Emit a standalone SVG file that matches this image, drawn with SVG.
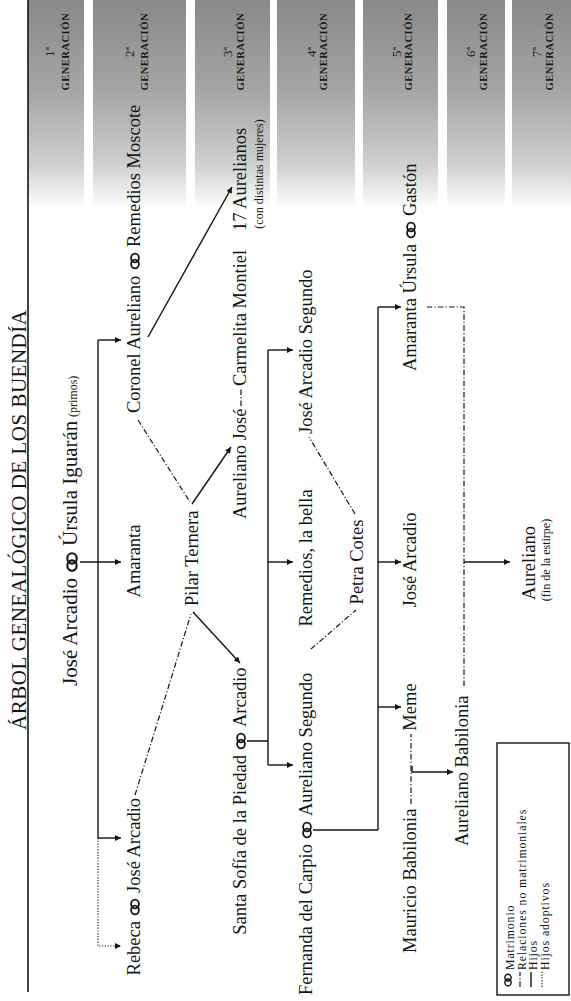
<svg xmlns="http://www.w3.org/2000/svg" width="571" height="1001" viewBox="0 0 571 1001">
<style>
.t{font-family:"Liberation Serif","DejaVu Serif",serif;fill:#141414}
.n{font-size:18.5px}
.r{font-size:21px}
.s{font-size:12px}
.lg{font-size:11.8px;letter-spacing:0.9px}
.gl{font-family:"Liberation Serif","DejaVu Serif",serif;font-weight:bold;font-size:10.5px;fill:#1a1a1a}
.gn{font-family:"Liberation Serif","DejaVu Serif",serif;font-size:13px;fill:#1a1a1a}
.ti{font-size:21px}
.m{text-anchor:middle}
.e{text-anchor:end}
.ln{stroke:#141414;stroke-width:1.4;fill:none}
.rel{stroke:#141414;stroke-width:1.2;fill:none;stroke-dasharray:5.5 2.2 1.2 2.2}
.ad{stroke:#141414;stroke-width:1.2;fill:none;stroke-dasharray:1.2 1.6}
.rg{stroke:#141414;stroke-width:1.8;fill:none}
</style>
<defs>
<linearGradient id="band" x1="0" y1="0" x2="0" y2="1">
<stop offset="0" stop-color="#898989"/>
<stop offset="0.45" stop-color="#a6a6a6"/>
<stop offset="0.8" stop-color="#cfcfcf"/>
<stop offset="1" stop-color="#fbfbfb"/>
</linearGradient>
<marker id="ah" viewBox="0 0 10 10" refX="10" refY="5" markerWidth="8" markerHeight="6" markerUnits="userSpaceOnUse" orient="auto">
<path d="M0,0 L10,5 L0,10 z" fill="#141414"/>
</marker>
<g id="ring" class="rg"><ellipse cx="0" cy="-3" rx="3.9" ry="4.3"/><ellipse cx="0" cy="3" rx="3.9" ry="4.3"/></g>
</defs>
<rect width="571" height="1001" fill="#ffffff"/>

<g id="generations">
<g id="gen1"><rect x="28" y="0" width="56" height="205" fill="url(#band)"/>
<text class="gn" text-anchor="middle" transform="translate(54,52) rotate(-90)">1ª</text>
<text class="gl" text-anchor="middle" textLength="77" lengthAdjust="spacing" transform="translate(69,52) rotate(-90)">GENERACIÓN</text></g>
<g id="gen2"><rect x="93" y="0" width="93" height="205" fill="url(#band)"/>
<text class="gn" text-anchor="middle" transform="translate(134,52) rotate(-90)">2ª</text>
<text class="gl" text-anchor="middle" textLength="77" lengthAdjust="spacing" transform="translate(148,52) rotate(-90)">GENERACIÓN</text></g>
<g id="gen3"><rect x="195" y="0" width="75" height="205" fill="url(#band)"/>
<text class="gn" text-anchor="middle" transform="translate(232,52) rotate(-90)">3ª</text>
<text class="gl" text-anchor="middle" textLength="77" lengthAdjust="spacing" transform="translate(244,52) rotate(-90)">GENERACIÓN</text></g>
<g id="gen4"><rect x="277" y="0" width="78" height="205" fill="url(#band)"/>
<text class="gn" text-anchor="middle" transform="translate(316,52) rotate(-90)">4ª</text>
<text class="gl" text-anchor="middle" textLength="77" lengthAdjust="spacing" transform="translate(327,52) rotate(-90)">GENERACIÓN</text></g>
<g id="gen5"><rect x="363" y="0" width="75" height="205" fill="url(#band)"/>
<text class="gn" text-anchor="middle" transform="translate(401,52) rotate(-90)">5ª</text>
<text class="gl" text-anchor="middle" textLength="77" lengthAdjust="spacing" transform="translate(412,52) rotate(-90)">GENERACIÓN</text></g>
<g id="gen6"><rect x="447" y="0" width="58" height="205" fill="url(#band)"/>
<text class="gn" text-anchor="middle" transform="translate(475,52) rotate(-90)">6ª</text>
<text class="gl" text-anchor="middle" textLength="77" lengthAdjust="spacing" transform="translate(487,52) rotate(-90)">GENERACIÓN</text></g>
<g id="gen7"><rect x="512" y="0" width="59" height="205" fill="url(#band)"/>
<text class="gn" text-anchor="middle" transform="translate(541,52) rotate(-90)">7ª</text>
<text class="gl" text-anchor="middle" textLength="77" lengthAdjust="spacing" transform="translate(553,52) rotate(-90)">GENERACIÓN</text></g>
</g>

<g id="title">
<line x1="28" y1="0" x2="28" y2="992" stroke="#141414" stroke-width="1.6"/>
<text class="t ti" textLength="420" lengthAdjust="spacing" transform="translate(26,730) rotate(-90)">ÁRBOL GENEALÓGICO DE LOS BUENDÍA</text>
</g>

<g id="connectors">
<path class="ln" d="M98,340 V838"/>
<path class="ln" d="M80,562 H121" marker-end="url(#ah)"/>
<path class="ln" d="M98,340 H121" marker-end="url(#ah)"/>
<path class="ln" d="M98,838 H121" marker-end="url(#ah)"/>
<path class="ad" d="M98,838 V946 H121" marker-end="url(#ah)"/>
<path class="ln" d="M148,337 L232,187" marker-end="url(#ah)"/>
<path class="rel" d="M138,420 L190,502"/>
<path class="ln" d="M192,504 L231,447" marker-end="url(#ah)"/>
<path class="rel" d="M135,795 L191,614"/>
<path class="ln" d="M193,612 L240,663" marker-end="url(#ah)"/>
<path class="rel" d="M241,406 V389"/>
<path class="ln" d="M247,741 H268 M268,350 V765"/>
<path class="ln" d="M268,350 H293" marker-end="url(#ah)"/>
<path class="ln" d="M268,562 H293" marker-end="url(#ah)"/>
<path class="ln" d="M268,765 H293" marker-end="url(#ah)"/>
<path class="rel" d="M311,649 L356,610"/>
<path class="rel" d="M355,514 L309,437"/>
<path class="ln" d="M313,830 H378 M378,307 V830"/>
<path class="ln" d="M378,307 H401" marker-end="url(#ah)"/>
<path class="ln" d="M378,562 H401" marker-end="url(#ah)"/>
<path class="ln" d="M378,707 H401" marker-end="url(#ah)"/>
<path class="rel" d="M411,804 V734"/>
<path class="ln" d="M412,766 V772 H453" marker-end="url(#ah)"/>
<path class="rel" d="M464,686 V307 H427"/>
<path class="ln" d="M464,562 H510" marker-end="url(#ah)"/>
</g>

<g id="n-jose-arcadio-ursula">
<text class="t r e" transform="translate(77,578) rotate(-90)">José Arcadio</text>
<use href="#ring" transform="translate(72,562) scale(1.2)"/>
<text class="t r" transform="translate(77,546) rotate(-90)">Úrsula Iguarán</text>
<text class="t s" transform="translate(77,417) rotate(-90)">(primos)</text>
</g>
<g id="n-rebeca-jose-arcadio">
<text class="t n e" transform="translate(140,921) rotate(-90)">Rebeca</text>
<use href="#ring" transform="translate(135,907)"/>
<text class="t n" transform="translate(140,893) rotate(-90)">José Arcadio</text>
</g>
<g id="n-amaranta">
<text class="t n m" transform="translate(140,561) rotate(-90)">Amaranta</text>
</g>
<g id="n-coronel-remedios">
<text class="t n" transform="translate(140,413) rotate(-90)">Coronel Aureliano</text>
<use href="#ring" transform="translate(135,261)"/>
<text class="t n" transform="translate(140,247) rotate(-90)">Remedios Moscote</text>
</g>
<g id="n-pilar">
<text class="t n" transform="translate(198,606) rotate(-90)">Pilar Ternera</text>
</g>
<g id="n-santa-sofia-arcadio">
<text class="t n e" transform="translate(246,755) rotate(-90)">Santa Sofía de la Piedad</text>
<use href="#ring" transform="translate(241,741)"/>
<text class="t n" transform="translate(246,727) rotate(-90)">Arcadio</text>
</g>
<g id="n-aureliano-jose">
<text class="t n" transform="translate(246,519) rotate(-90)">Aureliano José</text>
</g>
<g id="n-carmelita">
<text class="t n" transform="translate(246,386) rotate(-90)">Carmelita Montiel</text>
</g>
<g id="n-17-aurelianos">
<text class="t n" transform="translate(246,231) rotate(-90)">17 Aurelianos</text>
<text class="t s m" transform="translate(263,174) rotate(-90)">(con distintas mujeres)</text>
</g>
<g id="n-fernanda-aureliano-segundo">
<text class="t n e" transform="translate(312,844) rotate(-90)">Fernanda del Carpio</text>
<use href="#ring" transform="translate(307,830)"/>
<text class="t n" transform="translate(312,816) rotate(-90)">Aureliano Segundo</text>
</g>
<g id="n-remedios-bella">
<text class="t n m" transform="translate(312,558) rotate(-90)">Remedios, la bella</text>
</g>
<g id="n-jose-arcadio-segundo">
<text class="t n" transform="translate(312,434) rotate(-90)">José Arcadio Segundo</text>
</g>
<g id="n-petra">
<text class="t n m" transform="translate(363,562) rotate(-90)">Petra Cotes</text>
</g>
<g id="n-mauricio">
<text class="t n" transform="translate(416,953) rotate(-90)">Mauricio Babilonia</text>
</g>
<g id="n-meme">
<text class="t n m" transform="translate(416,707) rotate(-90)">Meme</text>
</g>
<g id="n-jose-arcadio-5">
<text class="t n m" transform="translate(416,560) rotate(-90)">José Arcadio</text>
</g>
<g id="n-amaranta-ursula-gaston">
<text class="t n" transform="translate(416,371) rotate(-90)">Amaranta Úrsula</text>
<use href="#ring" transform="translate(411,230)"/>
<text class="t n" transform="translate(416,216) rotate(-90)">Gastón</text>
</g>
<g id="n-aureliano-babilonia">
<text class="t n" transform="translate(468,846) rotate(-90)">Aureliano Babilonia</text>
</g>
<g id="n-aureliano-fin">
<text class="t n m" transform="translate(535,563) rotate(-90)">Aureliano</text>
<text class="t s m" transform="translate(550,560) rotate(-90)">(fin de la estirpe)</text>
</g>

<g id="legend">
<rect x="497" y="743" width="72" height="252" fill="#ffffff" stroke="#141414" stroke-width="1.4"/>
<use href="#ring" transform="translate(508,980) scale(0.8)"/>
<text class="t lg" transform="translate(514,970) rotate(-90)">Matrimonio</text>
<path class="rel" d="M520,987 V972"/>
<text class="t lg" transform="translate(525.5,970) rotate(-90)">Relaciones no matrimoniales</text>
<path class="ln" d="M531,987 V972"/>
<text class="t lg" transform="translate(537,970) rotate(-90)">Hijos</text>
<path class="ad" d="M542,987 V972"/>
<text class="t lg" transform="translate(548.5,970) rotate(-90)">Hijos adoptivos</text>
</g>
</svg>
